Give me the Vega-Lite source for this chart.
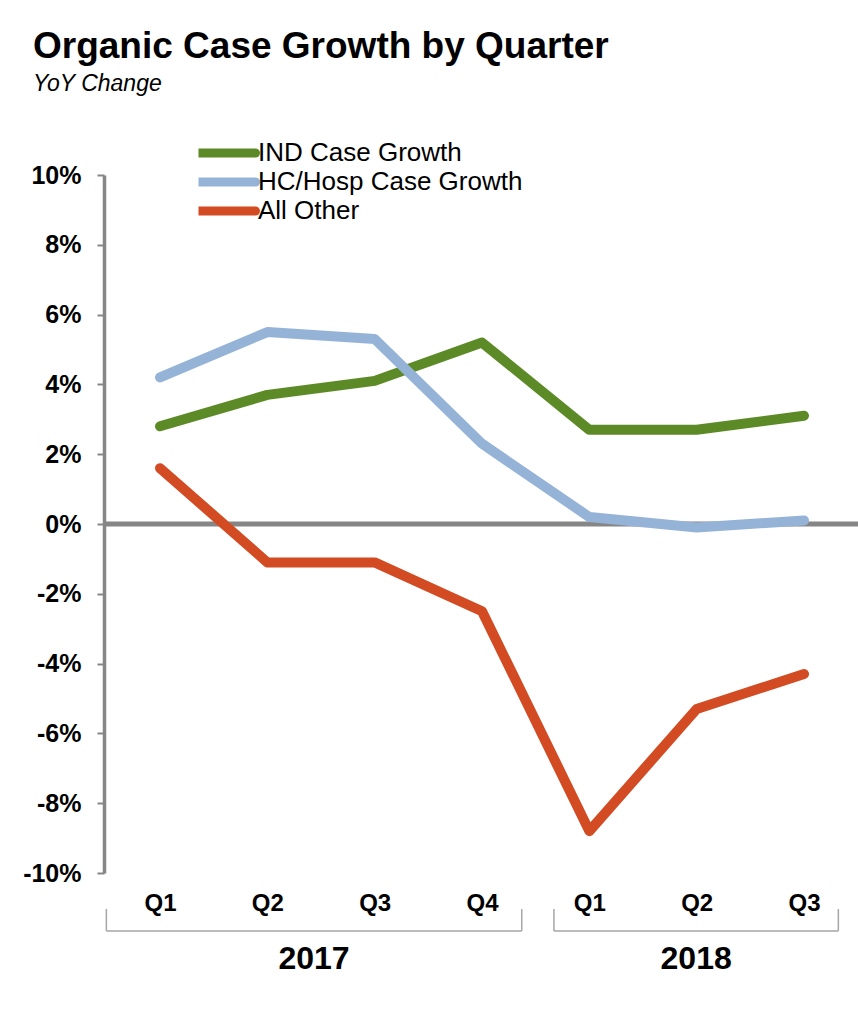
{
  "$schema": "https://vega.github.io/schema/vega-lite/v6.json",
  "width": 754,
  "height": 698,
  "autosize": {"type": "none"},
  "padding": {"left": 104, "top": 175, "right": 0, "bottom": 148},
  "background": "white",
  "config": {"view": {"stroke": null}, "font": "Liberation Sans"},
  "title": {
    "text": "Organic Case Growth by Quarter",
    "subtitle": "YoY Change",
    "anchor": "start",
    "frame": "group",
    "dx": -71,
    "offset": 42,
    "font": "Liberation Sans",
    "fontSize": 37,
    "fontWeight": "bold",
    "color": "black",
    "subtitleFont": "Liberation Sans",
    "subtitleFontSize": 23,
    "subtitleFontStyle": "italic",
    "subtitleColor": "black",
    "subtitlePadding": 7
  },
  "datasets": {
    "growth": [
      {"idx": 0, "quarter": "Q1", "year": "2017", "series": "IND Case Growth", "value": 2.8},
      {"idx": 1, "quarter": "Q2", "year": "2017", "series": "IND Case Growth", "value": 3.7},
      {"idx": 2, "quarter": "Q3", "year": "2017", "series": "IND Case Growth", "value": 4.1},
      {"idx": 3, "quarter": "Q4", "year": "2017", "series": "IND Case Growth", "value": 5.2},
      {"idx": 4, "quarter": "Q1", "year": "2018", "series": "IND Case Growth", "value": 2.7},
      {"idx": 5, "quarter": "Q2", "year": "2018", "series": "IND Case Growth", "value": 2.7},
      {"idx": 6, "quarter": "Q3", "year": "2018", "series": "IND Case Growth", "value": 3.1},
      {"idx": 0, "quarter": "Q1", "year": "2017", "series": "HC/Hosp Case Growth", "value": 4.2},
      {"idx": 1, "quarter": "Q2", "year": "2017", "series": "HC/Hosp Case Growth", "value": 5.5},
      {"idx": 2, "quarter": "Q3", "year": "2017", "series": "HC/Hosp Case Growth", "value": 5.3},
      {"idx": 3, "quarter": "Q4", "year": "2017", "series": "HC/Hosp Case Growth", "value": 2.3},
      {"idx": 4, "quarter": "Q1", "year": "2018", "series": "HC/Hosp Case Growth", "value": 0.2},
      {"idx": 5, "quarter": "Q2", "year": "2018", "series": "HC/Hosp Case Growth", "value": -0.1},
      {"idx": 6, "quarter": "Q3", "year": "2018", "series": "HC/Hosp Case Growth", "value": 0.1},
      {"idx": 0, "quarter": "Q1", "year": "2017", "series": "All Other", "value": 1.6},
      {"idx": 1, "quarter": "Q2", "year": "2017", "series": "All Other", "value": -1.1},
      {"idx": 2, "quarter": "Q3", "year": "2017", "series": "All Other", "value": -1.1},
      {"idx": 3, "quarter": "Q4", "year": "2017", "series": "All Other", "value": -2.5},
      {"idx": 4, "quarter": "Q1", "year": "2018", "series": "All Other", "value": -8.8},
      {"idx": 5, "quarter": "Q2", "year": "2018", "series": "All Other", "value": -5.3},
      {"idx": 6, "quarter": "Q3", "year": "2018", "series": "All Other", "value": -4.3}
    ],
    "years": [
      {"year": "2017", "from": -0.5, "to": 3.37},
      {"year": "2018", "from": 3.67, "to": 6.32}
    ]
  },
  "layer": [
    {
      "data": {"values": [{"baseline": 0}]},
      "mark": {"type": "rule", "color": "#868686", "strokeWidth": 5},
      "encoding": {
        "y": {"field": "baseline", "type": "quantitative", "title": null, "scale": {"domain": [-10, 10], "nice": false, "zero": false}}
      }
    },
    {
      "data": {"name": "growth"},
      "mark": {"type": "line", "strokeWidth": 10, "strokeCap": "round", "strokeJoin": "round"},
      "encoding": {
        "x": {
          "field": "idx", "type": "quantitative", "title": null,
          "scale": {"domain": [-0.522, 6.503], "nice": false, "zero": false},
          "axis": {
            "values": [0, 1, 2, 3, 4, 5, 6],
            "labelExpr": "['Q1','Q2','Q3','Q4','Q1','Q2','Q3'][datum.value]",
            "domain": false, "ticks": false, "grid": false,
            "labelFont": "Liberation Sans", "labelFontSize": 24, "labelFontWeight": "bold",
            "labelColor": "black", "labelPadding": 18
          }
        },
        "y": {
          "field": "value", "type": "quantitative", "title": null,
          "scale": {"domain": [-10, 10], "nice": false, "zero": false},
          "axis": {
            "values": [-10, -8, -6, -4, -2, 0, 2, 4, 6, 8, 10],
            "labelExpr": "datum.value + '%'",
            "grid": false,
            "domainColor": "#868686", "domainWidth": 3.5,
            "tickColor": "#868686", "tickWidth": 2, "tickSize": 7,
            "labelFont": "Liberation Sans", "labelFontSize": 25, "labelFontWeight": "bold",
            "labelColor": "black", "labelPadding": 16
          }
        },
        "color": {
          "field": "series", "type": "nominal",
          "scale": {
            "domain": ["IND Case Growth", "HC/Hosp Case Growth", "All Other"],
            "range": ["#5C8A27", "#95B3D7", "#D24B22"]
          },
          "legend": {
            "orient": "none", "legendX": 94.5, "legendY": -36.5, "title": null,
            "symbolType": "M-4.25,0H4.25", "symbolSize": 400, "symbolStrokeWidth": 9,
            "labelFont": "Liberation Sans", "labelFontSize": 26, "labelColor": "black",
            "labelLimit": 0, "rowPadding": 0, "clipHeight": 29, "labelOffset": 30.5,
            "encode": {"symbols": {"update": {"strokeCap": {"value": "round"}}}}
          }
        }
      }
    },
    {
      "data": {"name": "years"},
      "mark": {"type": "rule", "color": "#A6A6A6", "strokeWidth": 1.5},
      "encoding": {
        "x": {"field": "from", "type": "quantitative", "title": null, "scale": {"domain": [-0.522, 6.503], "nice": false, "zero": false}},
        "x2": {"field": "to"},
        "y": {"datum": -11.66, "type": "quantitative"}
      }
    },
    {
      "data": {"name": "years"},
      "mark": {"type": "rule", "color": "#A6A6A6", "strokeWidth": 1.5},
      "encoding": {
        "x": {"field": "from", "type": "quantitative", "title": null, "scale": {"domain": [-0.522, 6.503], "nice": false, "zero": false}},
        "y": {"datum": -11.03, "type": "quantitative"},
        "y2": {"datum": -11.66}
      }
    },
    {
      "data": {"name": "years"},
      "mark": {"type": "rule", "color": "#A6A6A6", "strokeWidth": 1.5},
      "encoding": {
        "x": {"field": "to", "type": "quantitative", "title": null, "scale": {"domain": [-0.522, 6.503], "nice": false, "zero": false}},
        "y": {"datum": -11.03, "type": "quantitative"},
        "y2": {"datum": -11.66}
      }
    },
    {
      "data": {"name": "years"},
      "transform": [{"calculate": "(datum.from + datum.to) / 2", "as": "mid"}],
      "mark": {"type": "text", "font": "Liberation Sans", "fontSize": 32, "fontWeight": "bold", "color": "black", "baseline": "alphabetic", "align": "center"},
      "encoding": {
        "x": {"field": "mid", "type": "quantitative", "title": null, "scale": {"domain": [-0.522, 6.503], "nice": false, "zero": false}},
        "y": {"datum": -12.75, "type": "quantitative"},
        "text": {"field": "year"}
      }
    }
  ]
}
